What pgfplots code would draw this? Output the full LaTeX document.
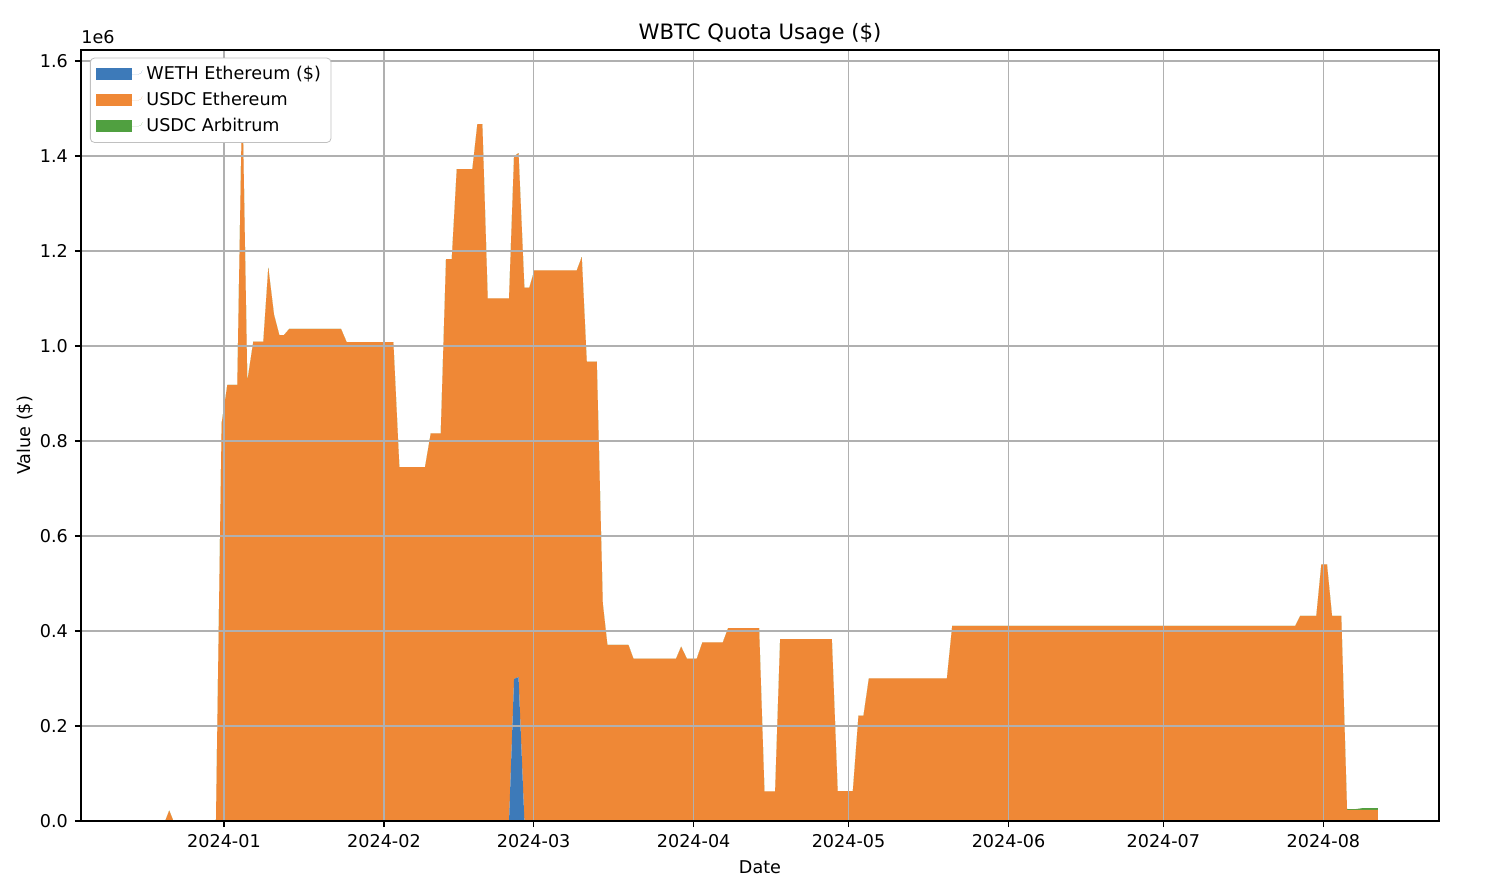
\documentclass[border=0pt]{standalone}
\usepackage{pgfplots}
\pgfplotsset{compat=1.18}
\usepackage{pgfplotstable}
\usepackage{fontspec}
\setmainfont{DejaVu Sans}
\definecolor{cblue}{RGB}{61,122,185}
\definecolor{corange}{RGB}{239,136,54}
\definecolor{cgreen}{RGB}{80,160,64}
\definecolor{gridgray}{RGB}{176,176,176}

\pgfplotstableread{
d weth usdce usdca
-15.76 0 0 0
-11.4 0 0 0
-10.6 0 0.022 0
-9.8 0 0 0
-1.55 0 0 0
-0.45 0 0.837 0
0.65 0 0.918 0
2.58 0 0.918 0
3.55 0 1.54 0
4.52 0 0.926 0
5.68 0 1.009 0
7.62 0 1.009 0
8.59 0 1.165 0
9.69 0 1.066 0
10.72 0 1.023 0
11.63 0 1.023 0
12.66 0 1.036 0
22.67 0 1.036 0
23.77 0 1.008 0
32.82 0 1.008 0
33.98 0 0.745 0
38.95 0 0.745 0
40.06 0 0.816 0
42.0 0 0.816 0
43.02 0 1.183 0
44.13 0 1.183 0
45.1 0 1.372 0
48.12 0 1.372 0
49.09 0 1.467 0
50.06 0 1.467 0
51.1 0 1.100 0
55.23 0 1.100 0
56.2 0.299 1.100 0
57.07 0.303 1.103 0
58.2 0 1.123 0
59.17 0 1.123 0
60.13 0 1.159 0
68.35 0 1.159 0
69.32 0 1.187 0
70.29 0 0.967 0
72.23 0 0.967 0
73.39 0 0.458 0
74.28 0 0.371 0
78.35 0 0.371 0
79.32 0 0.342 0
87.6 0 0.342 0
88.57 0 0.367 0
89.67 0 0.342 0
91.61 0 0.342 0
92.69 0 0.376 0
96.65 0 0.376 0
97.67 0 0.406 0
103.68 0 0.406 0
104.71 0 0.0625 0
106.78 0 0.0625 0
107.75 0 0.383 0
117.77 0 0.383 0
118.9 0 0.063 0
121.84 0 0.063 0
122.93 0 0.222 0
123.9 0 0.222 0
124.94 0 0.300 0
140.06 0 0.300 0
141.09 0 0.411 0
207.56 0 0.411 0
208.53 0 0.432 0
211.63 0 0.432 0
212.6 0 0.540 0
213.7 0 0.540 0
214.67 0 0.432 0
216.47 0 0.432 0
217.58 0 0.0235 0.0015
219.2 0 0.0235 0.0015
220.5 0 0.0235 0.0035
223.55 0 0.0235 0.0035
}\quota

\begin{document}
\begin{tikzpicture}
\path[use as bounding box] (-40.5pt,-31.5pt) rectangle (709.5pt,410.5pt);
\begin{axis}[
  name=ax,
  scale only axis,
  width=679pt, height=385.5pt,
  xmin=-27.7, xmax=235.4, ymin=0, ymax=1.623,
  stack plots=y,
  xtick={0,31,60,91,121,152,182,213},
  xticklabels={2024-01,2024-02,2024-03,2024-04,2024-05,2024-06,2024-07,2024-08},
  ytick={0,0.2,0.4,0.6,0.8,1.0,1.2,1.4,1.6},
  yticklabel style={/pgf/number format/.cd, fixed, fixed zerofill, precision=1},
  /pgf/number format/assume math mode=true,
  tick label style={font=\fontsize{8.8}{10.5}\selectfont, black},
  label style={font=\fontsize{8.8}{10.5}\selectfont},
  ylabel style={xshift=0pt, yshift=-3.5pt},
  title style={font=\fontsize{10.6}{12.5}\selectfont, yshift=-6.5pt},
  title={WBTC Quota Usage (\$)},
  xlabel={Date}, ylabel={Value (\$)},
  grid=major,
  grid style={gridgray, line width=0.7pt},
  axis line style={line width=0.7pt},
  tick style={black, line width=0.7pt},
  tick align=outside, tick pos=left,
  major tick length=3pt,
  axis on top,
  legend image code/.code={\path (0pt,0pt) rectangle (23pt,0pt); \fill[#1, sharp corners] (0pt,-2.9pt) rectangle (18pt,2.9pt);},
  legend style={at={(0.0066,0.99)}, anchor=north west,
    draw=gridgray!80, rounded corners=2pt, fill=white,
    font=\fontsize{8.8}{10.5}\selectfont, row sep=0.8pt,
    inner xsep=3pt, inner ysep=2pt, cells={anchor=west}},
]
\addplot[fill=cblue, draw=none] table[x=d, y=weth] {\quota} \closedcycle;
\addlegendentry{WETH Ethereum (\$)}
\addplot[fill=corange, draw=none] table[x=d, y=usdce] {\quota} \closedcycle;
\addlegendentry{USDC Ethereum}
\addplot[fill=cgreen, draw=none] table[x=d, y=usdca] {\quota} \closedcycle;
\addlegendentry{USDC Arbitrum}
\end{axis}
\node[anchor=south west, inner sep=0pt, font=\fontsize{8.8}{10.5}\selectfont] at ([yshift=3pt]ax.north west) {1e6};
\end{tikzpicture}
\end{document}
